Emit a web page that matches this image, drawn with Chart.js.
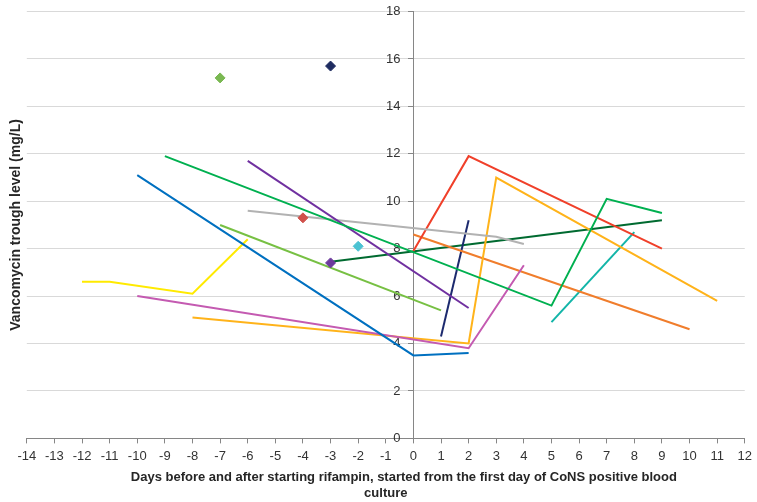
<!DOCTYPE html>
<html>
<head>
<meta charset="utf-8">
<script src="https://cdn.jsdelivr.net/npm/chart.js@4.4.0/dist/chart.umd.min.js"></script>
<style>
  html, body { margin: 0; padding: 0; background: #fff; }
  #wrap { width: 757px; height: 502px; position: relative; }
</style>
</head>
<body>
<div id="wrap"><canvas id="chart"></canvas></div>
<script>
// Axis ranges
const dayRange = [-14, 12];
const levelRange = [0, 18];
const levelStep = 2;
// level labels sit just left of the day-0 axis (in days)
const levelLabelDay = -0.47;

// Vancomycin trough levels per patient: [day, mg/L]
const patient1 = [[-10, 11.1], [0, 3.5], [2, 3.6]];
const patient2 = [[-9, 11.9], [5, 5.6], [7, 10.1], [9, 9.5]];
const patient3 = [[-6, 11.7], [2, 5.5]];
const patient4 = [[-6, 9.6], [3, 8.5], [4, 8.2]];
const patient5 = [[-7, 9.0], [1, 5.4]];
const patient6 = [[-12, 6.6], [-11, 6.6], [-8, 6.1], [-6, 8.4]];
const patient7 = [[-10, 6.0], [2, 3.8], [4, 7.3]];
const patient8 = [[-8, 5.1], [2, 4.0], [3, 11.0], [11, 5.8]];
const patient9 = [[0, 7.9], [2, 11.9], [9, 8.0]];
const patient10 = [[0, 8.6], [10, 4.6]];
const patient11 = [[1, 4.3], [2, 9.2]];
const patient12 = [[5, 4.9], [8, 8.7]];
const patient13 = [[-3, 7.45], [9, 9.2]];

// Patients with a single measurement
const single1 = [[-7, 15.2]];
const single2 = [[-3, 15.7]];
const single3 = [[-4, 9.3]];
const single4 = [[-2, 8.1]];
const single5 = [[-3, 7.4]];

const lineSeries = [
    { data: patient1, color: '#0070C0' },
    { data: patient2, color: '#00B050' },
    { data: patient3, color: '#7030A0' },
    { data: patient4, color: '#B2B2B2' },
    { data: patient5, color: '#77C043' },
    { data: patient6, color: '#FFEA00' },
    { data: patient7, color: '#C45AB1' },
    { data: patient8, color: '#FFB31A' },
    { data: patient9, color: '#F0402A' },
    { data: patient10, color: '#F07D2C' },
    { data: patient11, color: '#1C2A6E' },
    { data: patient12, color: '#12B5A8' },
    { data: patient13, color: '#006A30' }
];

const pointSeries = [
    { data: single1, color: '#7AB852' },
    { data: single2, color: '#1E2B60' },
    { data: single3, color: '#D0504A' },
    { data: single4, color: '#4BC2D2' },
    { data: single5, color: '#6B3A9C' }
];

const toPoints = arr => arr.map(([x, y]) => ({ x, y }));

const datasets = [];
pointSeries.forEach(s => {
    datasets.push({
        data: toPoints(s.data),
        showLine: false,
        pointStyle: 'rectRot',
        pointRadius: 5,
        backgroundColor: s.color,
        borderColor: s.color,
        borderWidth: 1,
        order: 0
    });
});
lineSeries.forEach(s => {
    datasets.push({
        data: toPoints(s.data),
        showLine: true,
        borderColor: s.color,
        backgroundColor: s.color,
        borderWidth: 2,
        pointRadius: 0,
        tension: 0,
        order: 1
    });
});

const FONT = "'Liberation Sans', Arial, sans-serif";
const AXIS_COLOR = '#868686';
const TICK_FONT = { family: FONT, size: 13 };

new Chart(document.getElementById('chart'), {
    type: 'scatter',
    data: { datasets },
    options: {
        responsive: true,
        maintainAspectRatio: false,
        animation: false,
        layout: { padding: { left: 2, right: 0, top: 11.5, bottom: 0 } },
        plugins: {
            legend: { display: false },
            tooltip: { enabled: false }
        },
        scales: {
            x: {
                type: 'linear',
                min: dayRange[0],
                max: dayRange[1],
                grid: {
                    drawOnChartArea: false,
                    tickLength: 5,
                    tickColor: AXIS_COLOR
                },
                border: { color: AXIS_COLOR },
                ticks: {
                    stepSize: 1,
                    color: '#333333',
                    padding: 5,
                    maxRotation: 0,
                    autoSkip: false,
                    font: TICK_FONT
                },
                title: {
                    display: true,
                    text: ['          Days before and after starting rifampin, started from the first day of CoNS positive blood', 'culture'],
                    color: '#262626',
                    font: { family: FONT, size: 13, weight: 'bold', lineHeight: 1.25 },
                    padding: { top: 0.5, bottom: 0 }
                }
            },
            // vertical axis line and gridlines, crossing at day 0
            y: {
                type: 'linear',
                position: { x: 0 },
                min: levelRange[0],
                max: levelRange[1],
                grid: {
                    color: '#D9D9D9',
                    tickLength: 5,
                    tickColor: AXIS_COLOR
                },
                border: { color: AXIS_COLOR },
                ticks: {
                    stepSize: levelStep,
                    display: false
                }
            },
            // level tick labels, right-aligned just left of the axis
            yLabels: {
                type: 'linear',
                position: { x: levelLabelDay },
                min: levelRange[0],
                max: levelRange[1],
                grid: { display: false, drawTicks: false },
                border: { display: false },
                ticks: {
                    stepSize: levelStep,
                    color: '#333333',
                    padding: 0,
                    font: TICK_FONT
                }
            },
            // holds the vertical axis title on the left edge
            yTitle: {
                type: 'linear',
                position: 'left',
                grid: { display: false, drawTicks: false },
                border: { display: false },
                ticks: { display: false },
                title: {
                    display: true,
                    text: 'Vancomycin trough level (mg/L)',
                    color: '#262626',
                    font: { family: FONT, size: 14, weight: 'bold' },
                    padding: { top: 6, bottom: 2 }
                }
            }
        }
    }
});
</script>
</body>
</html>
